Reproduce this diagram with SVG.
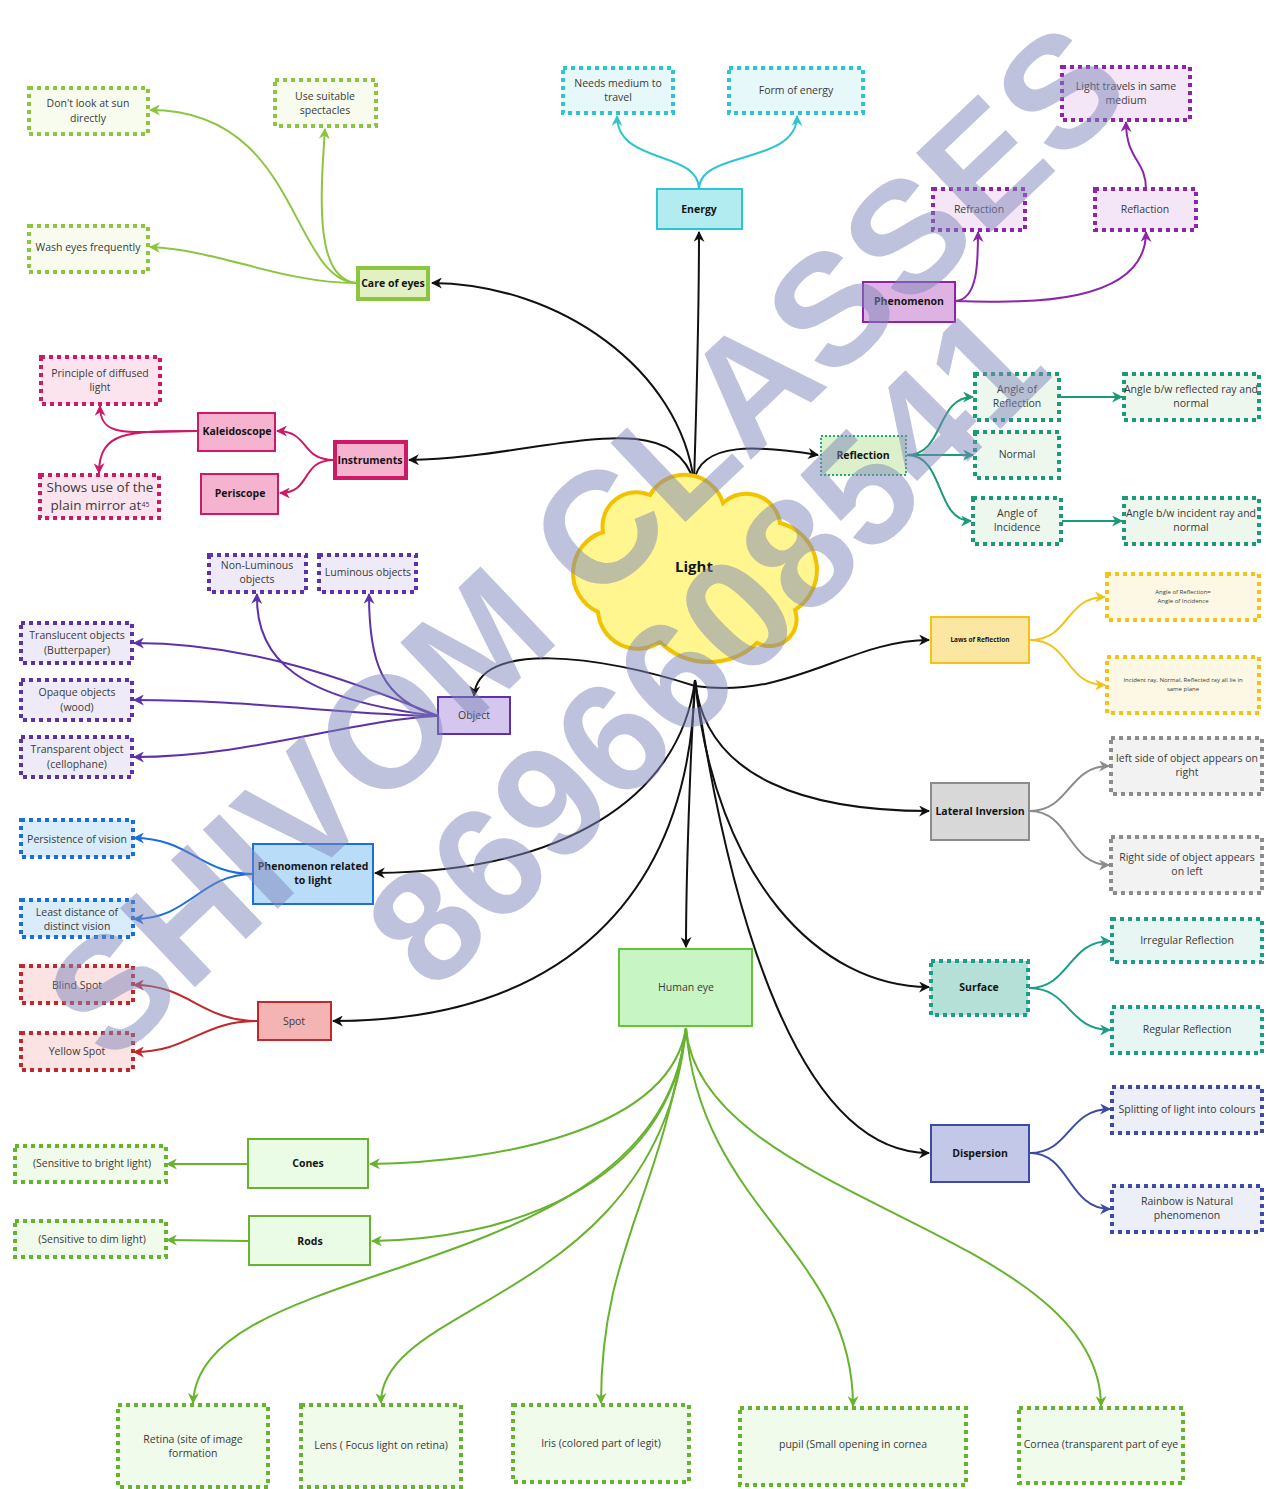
<svg xmlns="http://www.w3.org/2000/svg" width="1267" height="1489" viewBox="0 0 1267 1489">
<style>
text{font-family:"Open Sans","Noto Sans","Liberation Sans",sans-serif;font-size:10.5px;fill:#3a3a3a;text-anchor:middle}
.b{font-weight:bold;fill:#151515}
.d{stroke-width:4;stroke-dasharray:4 4}
.s{stroke-width:2}
.c{fill:none;stroke-width:2}
.k{stroke:#111}
.wm{font-family:"Liberation Sans","Open Sans",sans-serif;font-weight:bold;font-size:158px;fill:#7e86ba;fill-opacity:0.5;text-anchor:middle}
</style>
<defs>
<marker id="ak" viewBox="0 0 10 10" refX="9" refY="5" markerWidth="11" markerHeight="11" markerUnits="userSpaceOnUse" orient="auto"><path d="M0,0 L10,5 L0,10 L3,5 z" fill="#111"/></marker>
<marker id="acare" viewBox="0 0 10 10" refX="9" refY="5" markerWidth="11" markerHeight="11" markerUnits="userSpaceOnUse" orient="auto"><path d="M0,0 L10,5 L0,10 L3,5 z" fill="#8cc63f"/></marker>
<marker id="aen" viewBox="0 0 10 10" refX="9" refY="5" markerWidth="11" markerHeight="11" markerUnits="userSpaceOnUse" orient="auto"><path d="M0,0 L10,5 L0,10 L3,5 z" fill="#2ec4d0"/></marker>
<marker id="aph" viewBox="0 0 10 10" refX="9" refY="5" markerWidth="11" markerHeight="11" markerUnits="userSpaceOnUse" orient="auto"><path d="M0,0 L10,5 L0,10 L3,5 z" fill="#8e24aa"/></marker>
<marker id="ain" viewBox="0 0 10 10" refX="9" refY="5" markerWidth="11" markerHeight="11" markerUnits="userSpaceOnUse" orient="auto"><path d="M0,0 L10,5 L0,10 L3,5 z" fill="#cc1a66"/></marker>
<marker id="are" viewBox="0 0 10 10" refX="9" refY="5" markerWidth="11" markerHeight="11" markerUnits="userSpaceOnUse" orient="auto"><path d="M0,0 L10,5 L0,10 L3,5 z" fill="#1a9a78"/></marker>
<marker id="ala" viewBox="0 0 10 10" refX="9" refY="5" markerWidth="11" markerHeight="11" markerUnits="userSpaceOnUse" orient="auto"><path d="M0,0 L10,5 L0,10 L3,5 z" fill="#f2c314"/></marker>
<marker id="aob" viewBox="0 0 10 10" refX="9" refY="5" markerWidth="11" markerHeight="11" markerUnits="userSpaceOnUse" orient="auto"><path d="M0,0 L10,5 L0,10 L3,5 z" fill="#5d32a8"/></marker>
<marker id="abl" viewBox="0 0 10 10" refX="9" refY="5" markerWidth="11" markerHeight="11" markerUnits="userSpaceOnUse" orient="auto"><path d="M0,0 L10,5 L0,10 L3,5 z" fill="#1c6ed8"/></marker>
<marker id="asp" viewBox="0 0 10 10" refX="9" refY="5" markerWidth="11" markerHeight="11" markerUnits="userSpaceOnUse" orient="auto"><path d="M0,0 L10,5 L0,10 L3,5 z" fill="#c0282b"/></marker>
<marker id="aey" viewBox="0 0 10 10" refX="9" refY="5" markerWidth="11" markerHeight="11" markerUnits="userSpaceOnUse" orient="auto"><path d="M0,0 L10,5 L0,10 L3,5 z" fill="#66b32e"/></marker>
<marker id="agr" viewBox="0 0 10 10" refX="9" refY="5" markerWidth="11" markerHeight="11" markerUnits="userSpaceOnUse" orient="auto"><path d="M0,0 L10,5 L0,10 L3,5 z" fill="#8c8c8c"/></marker>
<marker id="asu" viewBox="0 0 10 10" refX="9" refY="5" markerWidth="11" markerHeight="11" markerUnits="userSpaceOnUse" orient="auto"><path d="M0,0 L10,5 L0,10 L3,5 z" fill="#1a9e86"/></marker>
<marker id="adi" viewBox="0 0 10 10" refX="9" refY="5" markerWidth="11" markerHeight="11" markerUnits="userSpaceOnUse" orient="auto"><path d="M0,0 L10,5 L0,10 L3,5 z" fill="#3c4ba8"/></marker>
</defs>
<rect width="1267" height="1489" fill="#ffffff"/>

<g id="connectors">
<!-- main black -->
<g class="k" fill="none" stroke-width="2" marker-end="url(#ak)">
<path d="M694,482 C696,420 699,300 699,232"/>
<path d="M694,482 C680,370 560,284 432,283"/>
<path d="M694,482 C670,400 540,458 409,460"/>
<path d="M694,482 C700,440 760,446 818,455"/>
<path d="M695,686 C600,655 478,640 474,696"/>
<path d="M695,686 C790,700 850,640 929,640"/>
<path d="M695,680 C705,780 810,811 929,811"/>
<path d="M695,680 C680,800 560,872 375,873"/>
<path d="M695,680 C715,880 820,987 929,987"/>
<path d="M695,680 C690,900 560,1021 333,1021"/>
<path d="M695,680 C690,760 686,880 686,947"/>
<path d="M695,680 C730,920 800,1153 929,1153"/>
</g>
<!-- care -->
<g class="c" stroke="#8cc63f" marker-end="url(#acare)">
<path d="M357,283 C290,280 300,110 150,110"/>
<path d="M357,283 C315,280 320,200 325,129"/>
<path d="M357,283 C280,283 220,250 150,247"/>
</g>
<!-- energy -->
<g class="c" stroke="#2ec4d0" marker-end="url(#aen)">
<path d="M699,189 C699,150 617,165 617,116"/>
<path d="M699,189 C699,150 797,165 797,116"/>
</g>
<!-- phenomenon -->
<g class="c" stroke="#8e24aa" marker-end="url(#aph)">
<path d="M955,301 C978,300 978,262 978,232"/>
<path d="M955,301 C1010,302 1146,310 1146,232"/>
<path d="M1146,189 C1146,160 1126,160 1126,122"/>
</g>
<!-- instruments -->
<g class="c" stroke="#cc1a66" marker-end="url(#ain)">
<path d="M334,460 C300,460 310,431 277,431"/>
<path d="M334,460 C300,460 312,493 280,493"/>
<path d="M198,431 C130,431 100,440 100,406"/>
<path d="M198,431 C130,431 99,430 99,473"/>
</g>
<!-- reflection -->
<g class="c" stroke="#1a9a78" marker-end="url(#are)">
<path d="M907,455 C945,455 935,397 973,397"/>
<path d="M907,455 L973,455"/>
<path d="M907,455 C945,455 935,521 971,521"/>
<path d="M1060,397 L1122,397"/>
<path d="M1062,521 L1122,521"/>
</g>
<!-- laws -->
<g class="c" stroke="#f2c314" marker-end="url(#ala)">
<path d="M1030,640 C1070,640 1065,597 1105,597"/>
<path d="M1030,640 C1070,640 1065,685 1105,685"/>
</g>
<!-- object -->
<g class="c" stroke="#5d32a8" marker-end="url(#aob)">
<path d="M438,716 C300,700 255,660 257,594"/>
<path d="M438,716 C380,700 369,660 369,594"/>
<path d="M438,716 C350,680 250,643 134,643"/>
<path d="M438,716 C350,715 250,700 134,700"/>
<path d="M438,716 C350,720 250,757 134,757"/>
</g>
<!-- phenomenon related -->
<g class="c" stroke="#1c6ed8" marker-end="url(#abl)">
<path d="M253,874 C200,874 190,838 134,838"/>
<path d="M253,874 C200,874 190,919 134,919"/>
</g>
<!-- spot -->
<g class="c" stroke="#c0282b" marker-end="url(#asp)">
<path d="M258,1021 C200,1021 190,985 134,985"/>
<path d="M258,1021 C200,1021 190,1052 134,1052"/>
</g>
<!-- human eye -->
<g class="c" stroke="#66b32e" marker-end="url(#aey)">
<path d="M686,1028 C670,1130 500,1162 370,1164"/>
<path d="M686,1028 C670,1190 500,1240 372,1241"/>
<path d="M686,1028 C660,1290 200,1250 193,1403"/>
<path d="M686,1028 C660,1300 380,1300 381,1403"/>
<path d="M686,1028 C660,1200 601,1250 601,1403"/>
<path d="M686,1028 C700,1210 853,1250 853,1406"/>
<path d="M686,1028 C700,1200 1101,1230 1101,1406"/>
<path d="M248,1164 L167,1164"/>
<path d="M249,1241 L167,1240"/>
</g>
<!-- lateral -->
<g class="c" stroke="#8c8c8c" marker-end="url(#agr)">
<path d="M1030,811 C1070,811 1068,766 1109,766"/>
<path d="M1030,811 C1070,811 1068,865 1109,865"/>
</g>
<!-- surface -->
<g class="c" stroke="#1a9e86" marker-end="url(#asu)">
<path d="M1029,988 C1070,988 1068,941 1110,941"/>
<path d="M1029,988 C1070,988 1068,1030 1110,1030"/>
</g>
<!-- dispersion -->
<g class="c" stroke="#3c4ba8" marker-end="url(#adi)">
<path d="M1030,1153 C1070,1153 1068,1109 1110,1109"/>
<path d="M1030,1153 C1070,1153 1068,1209 1110,1209"/>
</g>
</g>

<!-- central -->
<g id="light">
<path d="M650,495 A40,40 0 0 1 723,503 A34,34 0 0 1 780,523 A48,48 0 0 1 795,610 A27,27 0 0 1 757,643 A70,70 0 0 1 660,642 A40,40 0 0 1 598,612 A43,43 0 0 1 603,532 A34,34 0 0 1 650,495 Z" fill="#fff68f" stroke="#f2c200" stroke-width="4"/>
<text x="694" y="572" class="b" style="font-size:15px">Light</text>
</g>

<!-- care of eyes -->
<g id="n-dontlook"><rect x="29" y="88" width="119" height="46" fill="#f8fcef" stroke="#8cc63f" class="d"/><text x="88" y="107">Don't look at sun</text><text x="88" y="122">directly</text></g>
<g id="n-spectacles"><rect x="275" y="80" width="101" height="46" fill="#f8fcef" stroke="#8cc63f" class="d"/><text x="325" y="100">Use suitable</text><text x="325" y="114">spectacles</text></g>
<g id="n-wash"><rect x="29" y="226" width="119" height="46" fill="#f8fcef" stroke="#8cc63f" class="d"/><text x="88" y="251">Wash eyes frequently</text></g>
<g id="n-care"><rect x="358" y="268" width="70" height="31" fill="#e2f1c4" stroke="#8cc63f" stroke-width="4"/><text x="393" y="287" class="b">Care of eyes</text></g>

<!-- energy -->
<g id="n-medium"><rect x="563" y="68" width="110" height="45" fill="#e6f8fa" stroke="#2ec4d0" class="d"/><text x="618" y="87">Needs medium to</text><text x="618" y="101">travel</text></g>
<g id="n-form"><rect x="729" y="68" width="134" height="45" fill="#e6f8fa" stroke="#2ec4d0" class="d"/><text x="796" y="94">Form of energy</text></g>
<g id="n-energy"><rect x="657" y="189" width="85" height="40" fill="#b3ecf0" stroke="#2ec4d0" class="s"/><text x="699" y="213" class="b">Energy</text></g>

<!-- phenomenon -->
<g id="n-travels"><rect x="1062" y="67" width="128" height="53" fill="#f5e6f7" stroke="#8e24aa" class="d"/><text x="1126" y="90">Light travels in same</text><text x="1126" y="104">medium</text></g>
<g id="n-refraction"><rect x="933" y="189" width="92" height="41" fill="#f5e6f7" stroke="#8e24aa" class="d"/><text x="979" y="213">Refraction</text></g>
<g id="n-reflaction"><rect x="1095" y="189" width="101" height="41" fill="#f5e6f7" stroke="#8e24aa" class="d"/><text x="1145" y="213">Reflaction</text></g>
<g id="n-phenomenon"><rect x="863" y="282" width="92" height="40" fill="#deb3e3" stroke="#8e24aa" class="s"/><text x="909" y="305" class="b">Phenomenon</text></g>

<!-- instruments -->
<g id="n-diffused"><rect x="41" y="357" width="119" height="47" fill="#fbe4ee" stroke="#cc1a66" class="d"/><text x="100" y="377">Principle of diffused</text><text x="100" y="391">light</text></g>
<g id="n-shows"><rect x="40" y="475" width="119" height="43" fill="#fbe4ee" stroke="#cc1a66" class="d"/><text x="100" y="492" style="font-size:13.5px">Shows use of the</text><text x="100" y="510" style="font-size:13.5px">plain mirror at<tspan style="font-size:7px" dy="-3">45</tspan></text></g>
<g id="n-kaleido"><rect x="198" y="413" width="77" height="38" fill="#f5b3cf" stroke="#cc1a66" class="s"/><text x="237" y="435" class="b">Kaleidoscope</text></g>
<g id="n-periscope"><rect x="201" y="474" width="77" height="40" fill="#f5b3cf" stroke="#cc1a66" class="s"/><text x="240" y="497" class="b">Periscope</text></g>
<g id="n-instruments"><rect x="335" y="442" width="71" height="36" fill="#f5b3cf" stroke="#cc1a66" stroke-width="4"/><text x="370" y="464" class="b">Instruments</text></g>

<!-- reflection -->
<g id="n-reflection"><rect x="821" y="436" width="85" height="39" fill="#dcf1cb" stroke="#22a884" stroke-width="2" stroke-dasharray="2 2"/><text x="863" y="459" class="b">Reflection</text></g>
<g id="n-aor"><rect x="975" y="374" width="84" height="46" fill="#eef7ee" stroke="#1a9a78" class="d"/><text x="1017" y="393">Angle of</text><text x="1017" y="407">Reflection</text></g>
<g id="n-normal"><rect x="975" y="432" width="84" height="46" fill="#eef7ee" stroke="#1a9a78" class="d"/><text x="1017" y="458">Normal</text></g>
<g id="n-aoi"><rect x="973" y="498" width="88" height="46" fill="#eef7ee" stroke="#1a9a78" class="d"/><text x="1017" y="517">Angle of</text><text x="1017" y="531">Incidence</text></g>
<g id="n-aor2"><rect x="1124" y="374" width="135" height="46" fill="#eef7ee" stroke="#1a9a78" class="d"/><text x="1191" y="393">Angle b/w reflected ray and</text><text x="1191" y="407">normal</text></g>
<g id="n-aoi2"><rect x="1124" y="498" width="135" height="46" fill="#eef7ee" stroke="#1a9a78" class="d"/><text x="1191" y="517">Angle b/w incident ray and</text><text x="1191" y="531">normal</text></g>

<!-- laws -->
<g id="n-laws"><rect x="931" y="617" width="98" height="46" fill="#fbe7a1" stroke="#f2c314" class="s"/><text x="980" y="642" class="b" style="font-size:6.5px">Laws of Reflection</text></g>
<g id="n-law1"><rect x="1107" y="574" width="152" height="46" fill="#fdf8e4" stroke="#f2c314" class="d"/><text x="1183" y="594" style="font-size:6px">Angle of Reflection=</text><text x="1183" y="603" style="font-size:6px">Angle of Incidence</text></g>
<g id="n-law2"><rect x="1107" y="657" width="152" height="56" fill="#fdf8e4" stroke="#f2c314" class="d"/><text x="1183" y="682" style="font-size:6px">Incident ray, Normal, Reflected ray all lie in</text><text x="1183" y="691" style="font-size:6px">same plane</text></g>

<!-- object -->
<g id="n-nonlum"><rect x="209" y="555" width="97" height="37" fill="#efeaf8" stroke="#5d32a8" class="d"/><text x="257" y="569">Non-Luminous</text><text x="257" y="583">objects</text></g>
<g id="n-lum"><rect x="319" y="555" width="97" height="37" fill="#efeaf8" stroke="#5d32a8" class="d"/><text x="368" y="576">Luminous objects</text></g>
<g id="n-transl"><rect x="21" y="623" width="111" height="40" fill="#efeaf8" stroke="#5d32a8" class="d"/><text x="77" y="639">Translucent objects</text><text x="77" y="654">(Butterpaper)</text></g>
<g id="n-opaque"><rect x="21" y="680" width="111" height="40" fill="#efeaf8" stroke="#5d32a8" class="d"/><text x="77" y="696">Opaque objects</text><text x="77" y="711">(wood)</text></g>
<g id="n-transp"><rect x="21" y="737" width="111" height="40" fill="#efeaf8" stroke="#5d32a8" class="d"/><text x="77" y="753">Transparent object</text><text x="77" y="768">(cellophane)</text></g>
<g id="n-object"><rect x="438" y="697" width="72" height="37" fill="#d4c6ee" stroke="#5d32a8" class="s"/><text x="474" y="719">Object</text></g>

<!-- phenomenon related to light -->
<g id="n-persist"><rect x="21" y="820" width="112" height="37" fill="#d8ecfb" stroke="#1c6ed8" class="d"/><text x="77" y="843">Persistence of vision</text></g>
<g id="n-least"><rect x="21" y="900" width="112" height="37" fill="#d8ecfb" stroke="#1c6ed8" class="d"/><text x="77" y="916">Least distance of</text><text x="77" y="930">distinct vision</text></g>
<g id="n-phenlight"><rect x="253" y="844" width="120" height="60" fill="#b9dcf9" stroke="#1c6ed8" class="s"/><text x="313" y="870" class="b">Phenomenon related</text><text x="313" y="884" class="b">to light</text></g>

<!-- spot -->
<g id="n-blind"><rect x="21" y="966" width="112" height="37" fill="#fbe3e3" stroke="#c0282b" class="d"/><text x="77" y="989">Blind Spot</text></g>
<g id="n-yellow"><rect x="21" y="1033" width="112" height="37" fill="#fbe3e3" stroke="#c0282b" class="d"/><text x="77" y="1055">Yellow Spot</text></g>
<g id="n-spot"><rect x="258" y="1002" width="73" height="38" fill="#f4b4b4" stroke="#c0282b" class="s"/><text x="294" y="1025">Spot</text></g>

<!-- human eye -->
<g id="n-eye"><rect x="619" y="949" width="133" height="77" fill="#c7f5c4" stroke="#66c23a" class="s"/><text x="686" y="991">Human eye</text></g>
<g id="n-cones"><rect x="248" y="1139" width="120" height="49" fill="#eafbe6" stroke="#66b32e" class="s"/><text x="308" y="1167" class="b">Cones</text></g>
<g id="n-rods"><rect x="249" y="1216" width="121" height="49" fill="#eafbe6" stroke="#66b32e" class="s"/><text x="310" y="1245" class="b">Rods</text></g>
<g id="n-bright"><rect x="15" y="1146" width="151" height="36" fill="#f0fbec" stroke="#66b32e" class="d"/><text x="92" y="1167">(Sensitive to bright light)</text></g>
<g id="n-dim"><rect x="15" y="1221" width="151" height="36" fill="#f0fbec" stroke="#66b32e" class="d"/><text x="92" y="1243">(Sensitive to dim light)</text></g>
<g id="n-retina"><rect x="118" y="1405" width="150" height="82" fill="#f0fbec" stroke="#66b32e" class="d"/><text x="193" y="1443">Retina (site of image</text><text x="193" y="1457">formation</text></g>
<g id="n-lens"><rect x="301" y="1405" width="160" height="82" fill="#f0fbec" stroke="#66b32e" class="d"/><text x="381" y="1449">Lens ( Focus light on retina)</text></g>
<g id="n-iris"><rect x="513" y="1405" width="176" height="77" fill="#f0fbec" stroke="#66b32e" class="d"/><text x="601" y="1447">Iris (colored part of legit)</text></g>
<g id="n-pupil"><rect x="740" y="1408" width="226" height="77" fill="#f0fbec" stroke="#66b32e" class="d"/><text x="853" y="1448">pupil (Small opening in cornea</text></g>
<g id="n-cornea"><rect x="1019" y="1408" width="164" height="75" fill="#f0fbec" stroke="#66b32e" class="d"/><text x="1101" y="1448">Cornea (transparent part of eye</text></g>

<!-- lateral inversion -->
<g id="n-lateral"><rect x="931" y="783" width="98" height="57" fill="#d8d8d8" stroke="#8c8c8c" class="s"/><text x="980" y="815" class="b">Lateral Inversion</text></g>
<g id="n-leftside"><rect x="1111" y="738" width="151" height="56" fill="#f2f2f2" stroke="#8c8c8c" class="d"/><text x="1187" y="762">left side of object appears on</text><text x="1187" y="776">right</text></g>
<g id="n-rightside"><rect x="1111" y="837" width="151" height="56" fill="#f2f2f2" stroke="#8c8c8c" class="d"/><text x="1187" y="861">Right side of object appears</text><text x="1187" y="875">on left</text></g>

<!-- surface -->
<g id="n-surface"><rect x="931" y="961" width="97" height="54" fill="#b5e0d8" stroke="#1a9e86" class="d"/><text x="979" y="991" class="b">Surface</text></g>
<g id="n-irregular"><rect x="1112" y="919" width="150" height="43" fill="#e8f6f3" stroke="#1a9e86" class="d"/><text x="1187" y="944">Irregular Reflection</text></g>
<g id="n-regular"><rect x="1112" y="1007" width="150" height="46" fill="#e8f6f3" stroke="#1a9e86" class="d"/><text x="1187" y="1033">Regular Reflection</text></g>

<!-- dispersion -->
<g id="n-dispersion"><rect x="931" y="1125" width="98" height="57" fill="#c3c8e8" stroke="#3c4ba8" class="s"/><text x="980" y="1157" class="b">Dispersion</text></g>
<g id="n-splitting"><rect x="1112" y="1087" width="150" height="46" fill="#eceef8" stroke="#3c4ba8" class="d"/><text x="1187" y="1113">Splitting of light into colours</text></g>
<g id="n-rainbow"><rect x="1112" y="1186" width="150" height="46" fill="#eceef8" stroke="#3c4ba8" class="d"/><text x="1187" y="1205">Rainbow is Natural</text><text x="1187" y="1219">phenomenon</text></g>

<!-- watermark -->
<g id="watermark">
<text class="wm" transform="translate(585,540) rotate(-43.5)" x="0" y="56">SHIVOM CLASSES</text>
<text class="wm" transform="translate(705,645) rotate(-45)" x="0" y="56">8696608541</text>
</g>
</svg>
